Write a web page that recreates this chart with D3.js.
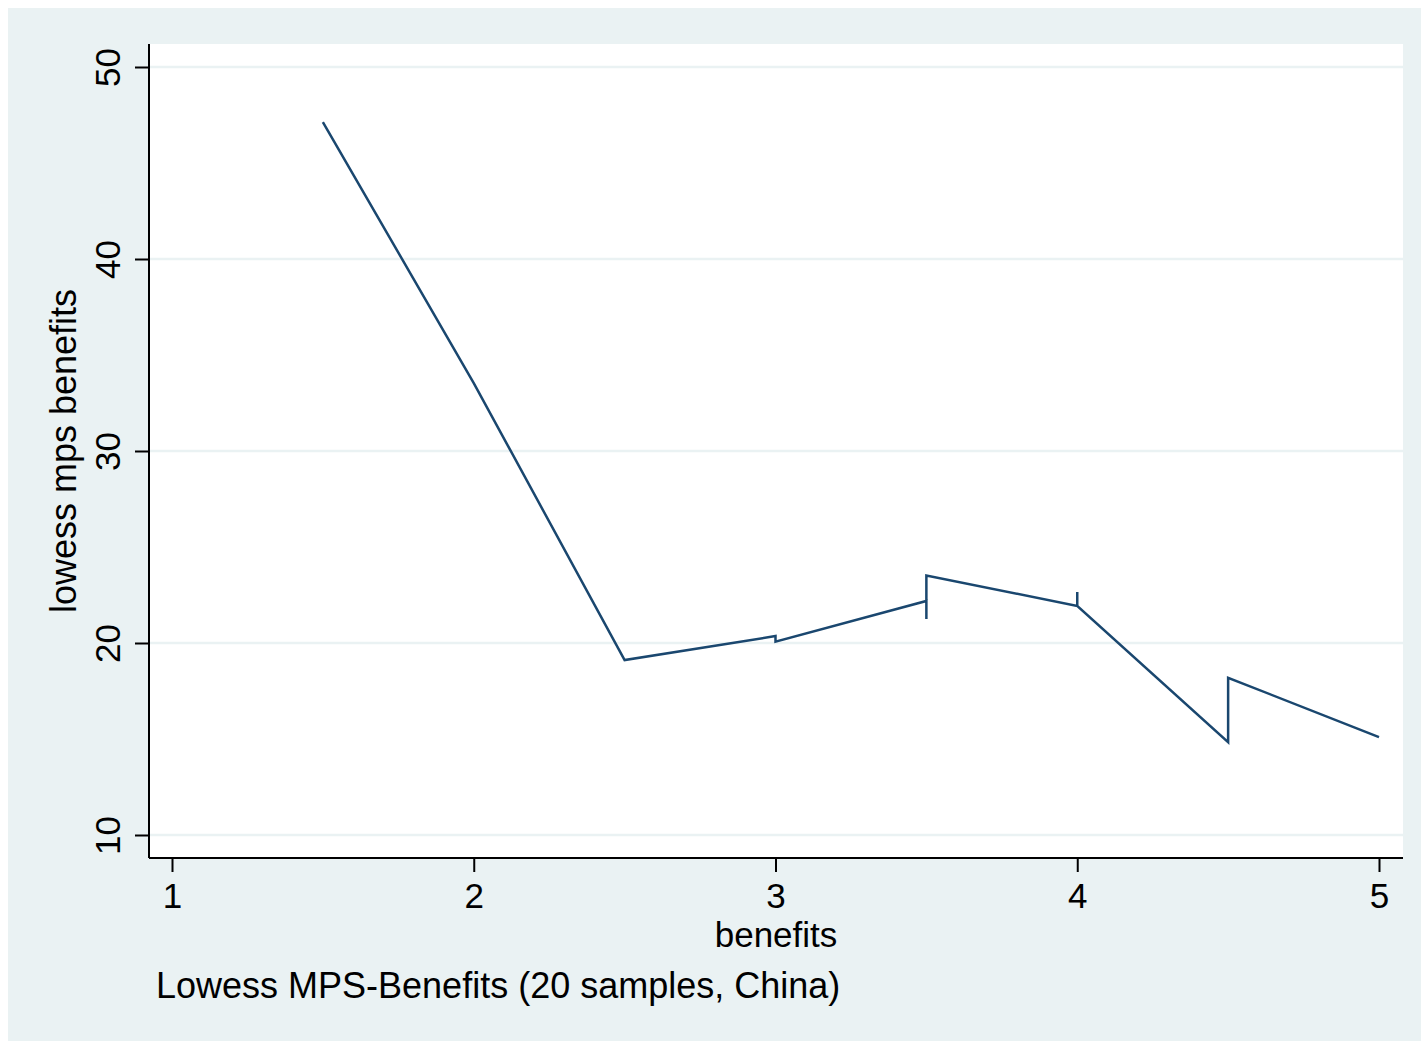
<!DOCTYPE html>
<html>
<head>
<meta charset="utf-8">
<script src="https://cdn.jsdelivr.net/npm/d3@7"></script>
<style>
html,body{margin:0;padding:0;background:#fff;}
svg{display:block;}
text{font-family:"Liberation Sans",Arial,Helvetica,sans-serif;fill:#000;}
</style>
</head>
<body>
<svg id="chart" width="1421" height="1041"></svg>
<script>
// Data
const benefits = [1.5, 2, 2.5, 3, 3, 3.5, 3.5, 3.5, 4, 4, 4, 4.5, 4.5, 5];
const lowessMps = [47.13, 33.54, 19.11, 20.36, 20.07, 22.19, 21.25, 23.52, 21.93, 22.66, 21.93, 14.84, 18.19, 15.10];
const xTicks = [1, 2, 3, 4, 5];
const yTicks = [10, 20, 30, 40, 50];
const xTitle = "benefits";
const yTitle = "lowess mps benefits";
const caption = "Lowess MPS-Benefits (20 samples, China)";

const svg = d3.select("#chart");
const W = 1421, H = 1041;
const plot = {left: 149, top: 44, right: 1403, bottom: 858};
const fs = 35;

// outer background
svg.append("rect").attr("x", 8).attr("y", 8).attr("width", W - 8).attr("height", H - 8).attr("fill", "#EAF2F3");
// plot region
svg.append("rect").attr("x", plot.left).attr("y", plot.top)
  .attr("width", plot.right - plot.left).attr("height", plot.bottom - plot.top).attr("fill", "#fff");

const x = d3.scaleLinear().domain([1, 5]).range([172, 1379]);
const y = d3.scaleLinear().domain([10, 50]).range([835, 67]);

// gridlines
svg.append("g").selectAll("line").data(yTicks).join("line")
  .attr("x1", plot.left).attr("x2", plot.right)
  .attr("y1", d => y(d)).attr("y2", d => y(d))
  .attr("stroke", "#EAF2F3").attr("stroke-width", 2.5);

// line
const pts = benefits.map((b, i) => [b, lowessMps[i]]);
svg.append("path").datum(pts)
  .attr("d", d3.line().x(d => x(d[0])).y(d => y(d[1])))
  .attr("fill", "none").attr("stroke", "#1a476f").attr("stroke-width", 2.5)
  .attr("stroke-linejoin", "miter");

// y axis
const yAxis = svg.append("g").attr("transform", `translate(${plot.left},0)`)
  .call(d3.axisLeft(y).tickValues(yTicks).tickSize(14).tickPadding(0).tickFormat(d3.format("d")));
yAxis.select(".domain").attr("d", `M0,${plot.top}V${plot.bottom}`).attr("stroke", "#000").attr("stroke-width", 2);
yAxis.selectAll(".tick line").attr("stroke", "#000").attr("stroke-width", 2);
yAxis.selectAll(".tick text")
  .attr("x", null).attr("dy", null)
  .attr("transform", "translate(-29,0) rotate(-90)")
  .attr("text-anchor", "middle")
  .style("font-size", fs + "px").attr("font-family", null);

// x axis
const xAxis = svg.append("g").attr("transform", `translate(0,${plot.bottom})`)
  .call(d3.axisBottom(x).tickValues(xTicks).tickSize(14).tickPadding(0).tickFormat(d3.format("d")));
xAxis.select(".domain").attr("d", `M${plot.left},0H${plot.right}`).attr("stroke", "#000").attr("stroke-width", 2);
xAxis.selectAll(".tick line").attr("stroke", "#000").attr("stroke-width", 2);
xAxis.selectAll(".tick text")
  .attr("y", 50).attr("dy", null)
  .style("font-size", fs + "px").attr("font-family", null);

// axis titles
svg.append("text").attr("x", (plot.left + plot.right) / 2 + 0).attr("y", 947)
  .attr("text-anchor", "middle").style("font-size", fs + "px").text(xTitle);
svg.append("text")
  .attr("transform", `translate(76,${(plot.top + plot.bottom) / 2}) rotate(-90)`)
  .attr("text-anchor", "middle").style("font-size", "36px").text(yTitle);

// caption
svg.append("text").attr("x", 156).attr("y", 998)
  .style("font-size", "36px").text(caption);
</script>
</body>
</html>
